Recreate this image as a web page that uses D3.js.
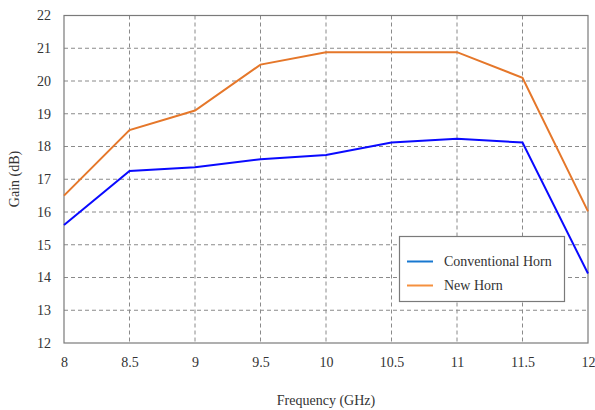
<!DOCTYPE html>
<html><head><meta charset="utf-8">
<script src="https://cdn.jsdelivr.net/npm/d3@7"></script>
<style>body{margin:0;background:#fff}svg{display:block}text{font-family:"Liberation Serif","Times New Roman",serif;fill:#333}</style>
</head><body><svg id="c" width="595" height="410"></svg>
<script>
const freqs = [8, 8.5, 9, 9.5, 10, 10.5, 11, 11.5, 12];
const conventional = [15.6, 17.25, 17.37, 17.61, 17.74, 18.12, 18.24, 18.12, 14.12];
const newHorn = [16.5, 18.5, 19.1, 20.5, 20.88, 20.88, 20.88, 20.1, 16.02];
const xTicks = [8, 8.5, 9, 9.5, 10, 10.5, 11, 11.5, 12];
const yTicks = [12, 13, 14, 15, 16, 17, 18, 19, 20, 21, 22];
const seriesNames = ["Conventional Horn", "New Horn"];

const svg = d3.select("#c");
const L = 64, R = 588, T = 15.5, B = 343;
const x = d3.scaleLinear().domain([8, 12]).range([L, R]);
const y = d3.scaleLinear().domain([12, 22]).range([B, T]);

// grid
svg.append("g").selectAll("line").data(xTicks.slice(1, -1)).join("line")
  .attr("x1", d => x(d)).attr("x2", d => x(d)).attr("y1", T).attr("y2", B)
  .attr("stroke", "#8a8a8a").attr("stroke-width", 1).attr("stroke-dasharray", "4,3");
svg.append("g").selectAll("line").data(yTicks.slice(1, -1)).join("line")
  .attr("x1", L).attr("x2", R).attr("y1", d => y(d)).attr("y2", d => y(d))
  .attr("stroke", "#8a8a8a").attr("stroke-width", 1).attr("stroke-dasharray", "4,3");

// frame
svg.append("rect").attr("x", L).attr("y", T).attr("width", R - L).attr("height", B - T)
  .attr("fill", "none").attr("stroke", "#7a7a7a").attr("stroke-width", 1.2);

// axes labels
const xa = svg.append("g").attr("transform", `translate(0,${B})`)
  .call(d3.axisBottom(x).tickValues(xTicks).tickSize(0).tickPadding(14).tickFormat(d3.format("")));
xa.select(".domain").remove();
xa.selectAll("text").attr("font-size", 14).style("font-family", '"Liberation Serif",serif').attr("fill", "#333");
const ya = svg.append("g").attr("transform", `translate(${L},0)`)
  .call(d3.axisLeft(y).tickValues(yTicks).tickSize(0).tickPadding(13).tickFormat(d3.format("")));
ya.select(".domain").remove();
ya.selectAll("text").attr("font-size", 14).style("font-family", '"Liberation Serif",serif').attr("fill", "#333");

svg.append("text").attr("x", 326).attr("y", 405).attr("text-anchor", "middle").attr("font-size", 14).text("Frequency (GHz)");
svg.append("text").attr("transform", "translate(19,179) rotate(-90)").attr("text-anchor", "middle").attr("font-size", 14).text("Gain (dB)");

const line = d3.line().x((d, i) => x(freqs[i])).y(d => y(d));
svg.append("path").datum(newHorn).attr("d", line).attr("fill", "none").attr("stroke", "#e5772a").attr("stroke-width", 2);
svg.append("path").datum(conventional).attr("d", line).attr("fill", "none").attr("stroke", "#0a0aff").attr("stroke-width", 2);

// legend
const lg = svg.append("g");
lg.append("rect").attr("x", 399.5).attr("y", 236.5).attr("width", 165).attr("height", 65)
  .attr("fill", "#fff").attr("stroke", "#7a7a7a").attr("stroke-width", 1.2);
const legendColors = ["#1878d0", "#f5903f"];
seriesNames.forEach((n, i) => {
  const yy = 261.5 + i * 24;
  lg.append("line").attr("x1", 407).attr("x2", 433).attr("y1", yy).attr("y2", yy).attr("stroke", legendColors[i]).attr("stroke-width", 2);
  lg.append("text").attr("x", 444).attr("y", yy + 4.5).attr("font-size", 14).text(n);
});
</script></body></html>
